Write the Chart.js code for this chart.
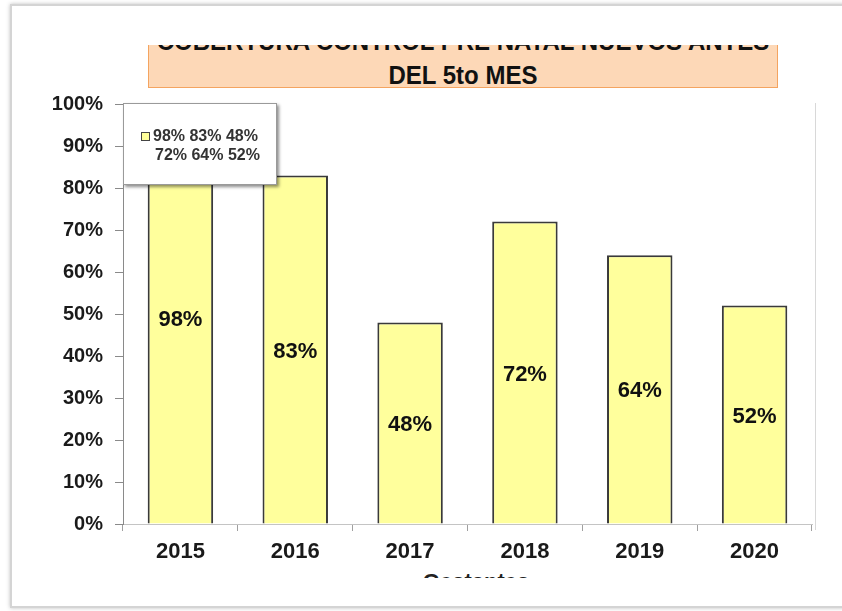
<!DOCTYPE html>
<html>
<head>
<meta charset="utf-8">
<script src="https://cdn.jsdelivr.net/npm/chart.js@4.4.1/dist/chart.umd.min.js"></script>
<style>
  html, body { margin: 0; padding: 0; background: #fff; }
  body { width: 842px; height: 611px; position: relative; overflow: hidden; font-family: "Liberation Sans", Arial, sans-serif; }
  #frame { position: absolute; left: 10px; top: 4px; width: 900px; height: 600px; border: 2px solid #d4d4d4; box-shadow: 0 0 4px rgba(0,0,0,0.25); }
  #title { position: absolute; left: 148px; top: 45px; width: 628px; height: 42px; background: #fdd8b7; border: 1px solid #f4a460; border-top: none; overflow: hidden; }
  #title div { position: absolute; left: 0; right: 0; top: -18px; text-align: center; font-weight: bold; font-size: 24px; line-height: 31px; color: #111; white-space: nowrap; transform: scaleY(1.08); }
  #xtitle { position: absolute; left: 376px; top: 569px; width: 200px; height: 9px; overflow: hidden; }
  #xtitle div { text-align: center; font-weight: bold; font-size: 22px; line-height: 26px; color: #222; }
  canvas { position: absolute; left: 0; top: 0; }
</style>
</head>
<body>
<div id="frame"></div>
<div id="title"><div>COBERTURA CONTROL PRE NATAL NUEVOS ANTES<br>DEL 5to MES</div></div>
<div id="xtitle"><div>Gestantes</div></div>
<canvas id="chart" width="842" height="611"></canvas>
<script>
// --- data ---
const years = ['2015', '2016', '2017', '2018', '2019', '2020'];
const coverage = [98, 83, 48, 72, 64, 52];
const legendLines = ['98% 83% 48%', '72% 64% 52%'];
const yTickStep = 10;

const FONT = '"Liberation Sans", Arial, sans-serif';

// value label in the middle of each bar
const barLabels = {
  id: 'barLabels',
  afterDatasetsDraw(chart) {
    const ctx = chart.ctx;
    const meta = chart.getDatasetMeta(0);
    ctx.save();
    ctx.font = 'bold 22px ' + FONT;
    ctx.fillStyle = '#111';
    ctx.textAlign = 'center';
    ctx.textBaseline = 'middle';
    meta.data.forEach((bar, i) => {
      ctx.fillText(coverage[i] + '%', bar.x, (bar.y + bar.base) / 2 + 2);
    });
    ctx.restore();
  }
};

// floating legend box over the top-left of the plot + plot right border
const floatLegend = {
  id: 'floatLegend',
  afterDraw(chart) {
    const ctx = chart.ctx;
    const a = chart.chartArea;
    ctx.save();
    ctx.strokeStyle = '#d8d8d8';
    ctx.lineWidth = 1;
    ctx.beginPath();
    ctx.moveTo(a.right + 3.5, a.top - 1);
    ctx.lineTo(a.right + 3.5, a.bottom + 6);
    ctx.stroke();

    const x = a.left, y = a.top - 1, w = 154, h = 82;
    ctx.shadowColor = 'rgba(0,0,0,0.45)';
    ctx.shadowBlur = 3;
    ctx.shadowOffsetX = 2;
    ctx.shadowOffsetY = 2;
    ctx.fillStyle = '#fff';
    ctx.fillRect(x, y, w, h);
    ctx.shadowColor = 'transparent';
    ctx.strokeStyle = '#9a9a9a';
    ctx.strokeRect(x + 0.5, y + 0.5, w - 1, h - 1);

    ctx.fillStyle = '#ffff99';
    ctx.fillRect(x + 18, y + 29, 9, 9);
    ctx.strokeStyle = '#444';
    ctx.strokeRect(x + 18.5, y + 29.5, 8, 8);

    ctx.font = 'bold 16px ' + FONT;
    ctx.fillStyle = '#333';
    ctx.textBaseline = 'middle';
    ctx.textAlign = 'left';
    ctx.fillText(legendLines[0], x + 30, y + 34);
    ctx.fillText(legendLines[1], x + 32, y + 53);
    ctx.restore();
  }
};

new Chart(document.getElementById('chart'), {
  type: 'bar',
  data: {
    labels: years,
    datasets: [{
      label: legendLines.join(' '),
      data: coverage,
      backgroundColor: '#ffff9c',
      borderColor: '#3a3a3a',
      borderWidth: 2,
      barPercentage: 0.57,
      categoryPercentage: 1
    }]
  },
  options: {
    responsive: false,
    animation: false,
    layout: { padding: { left: 50, right: 30, top: 104, bottom: 47 } },
    plugins: {
      legend: { display: false },
      tooltip: { enabled: false }
    },
    scales: {
      x: {
        grid: { drawOnChartArea: false, tickLength: 7, color: '#a0a0a0', offset: true },
        border: { color: '#c4c4c4' },
        ticks: { font: { family: FONT, weight: 'bold', size: 22 }, color: '#1a1a1a', padding: 8 },
        afterFit: s => { s.height = 40; }
      },
      y: {
        min: 0,
        max: 100,
        ticks: {
          stepSize: yTickStep,
          callback: v => v + '%',
          font: { family: FONT, weight: 'bold', size: 20 },
          color: '#1a1a1a',
          padding: 12
        },
        grid: { drawOnChartArea: false, tickLength: 8, color: '#8a8a8a' },
        border: { color: '#8a8a8a' },
        afterFit: s => { s.width = 73; }
      }
    }
  },
  plugins: [barLabels, floatLegend]
});
</script>
</body>
</html>
